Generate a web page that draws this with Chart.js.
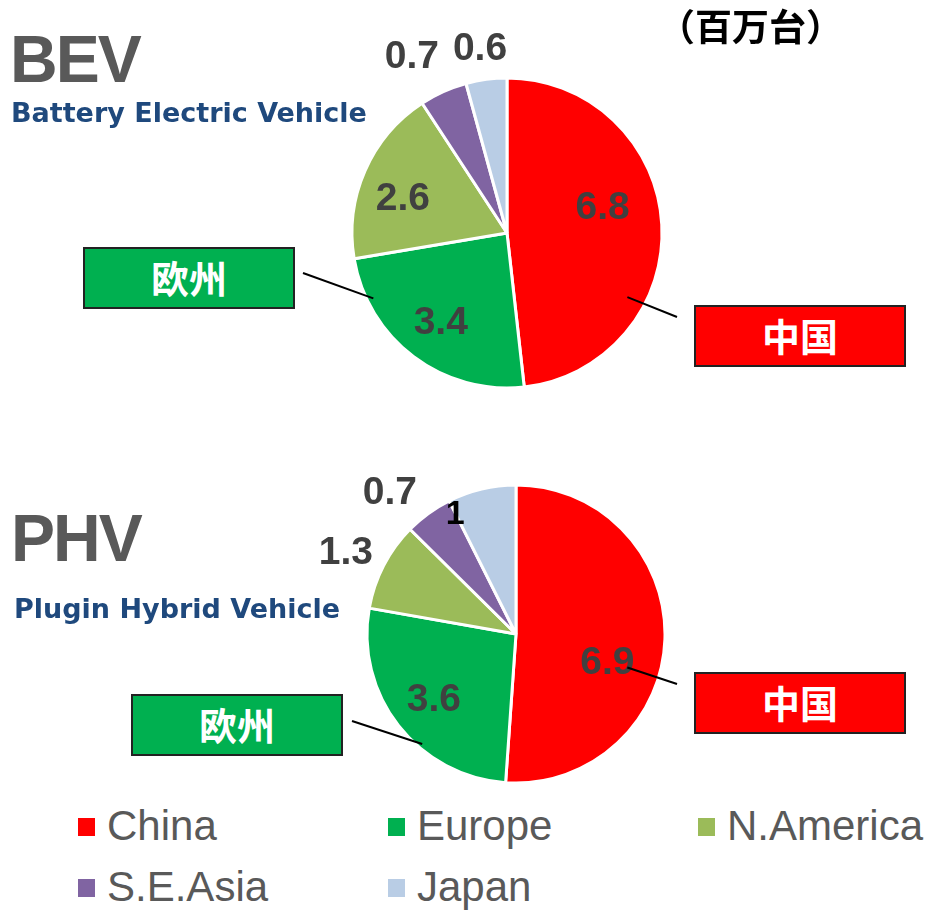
<!DOCTYPE html>
<html>
<head>
<meta charset="utf-8">
<script src="https://cdn.jsdelivr.net/npm/chart.js@4"></script>
<style>
  html, body { margin: 0; padding: 0; background: #fff; }
  #page { position: relative; width: 927px; height: 910px; overflow: hidden; }
  canvas { position: absolute; left: 0; }
  .title { position: absolute; font-family: 'Liberation Sans', Arial, sans-serif; font-weight: bold;
           font-size: 66px; line-height: 66px; color: #595959; letter-spacing: -2px; white-space: nowrap; }
  .sub { position: absolute; font-family: 'DejaVu Sans', Verdana, sans-serif; font-weight: bold;
         font-size: 27px; line-height: 27px; color: #1F497D; white-space: nowrap; }
  .unit { position: absolute; left: 658px; top: 7px; font-family: 'Noto Sans CJK JP', sans-serif;
          font-weight: bold; font-size: 37px; line-height: 37px; color: #000; white-space: nowrap; }
  .box { position: absolute; box-sizing: border-box; width: 212px; height: 62px; border: 2px solid #222;
         color: #fff; font-family: 'Noto Sans CJK JP', sans-serif; font-weight: bold; font-size: 38px;
         line-height: 56px; text-align: center; }
  .lg { position: absolute; font-family: 'Liberation Sans', Arial, sans-serif; font-size: 42px;
        line-height: 42px; color: #595959; white-space: nowrap; }
  .lg i { position: absolute; width: 17px; height: 18px; }
</style>
</head>
<body>
<div id="page">
  <canvas id="bev" width="927" height="420" style="top:0"></canvas>
  <canvas id="phv" width="927" height="380" style="top:420px"></canvas>

  <div class="title" style="left:10px; top:26px">BEV</div>
  <div class="sub" style="left:11px; top:99px">Battery Electric Vehicle</div>
  <div class="title" style="left:11px; top:505px">PHV</div>
  <div class="sub" style="left:14px; top:595px">Plugin Hybrid Vehicle</div>
  <div class="unit">（百万台）</div>

  <div class="box" style="left:83px; top:247px; background:#00B050">欧州</div>
  <div class="box" style="left:694px; top:305px; background:#FF0000">中国</div>
  <div class="box" style="left:131px; top:694px; background:#00B050">欧州</div>
  <div class="box" style="left:694px; top:672px; background:#FF0000">中国</div>

  <div id="legend"></div>
</div>

<script>
// ---- data ----
const regions = ['China', 'Europe', 'N.America', 'S.E.Asia', 'Japan'];
const bevValues = [6.8, 3.4, 2.6, 0.7, 0.6];
const phvValues = [6.9, 3.6, 1.3, 0.7, 1];
const regionColors = ['#FF0000', '#00B050', '#9BBB59', '#8064A2', '#B9CDE5'];

// label placement: [fraction along slice, radius factor]
const bevLabelPos = [[0.43, 0.64], [0.5, 0.71], [0.43, 0.71], [0.28, 1.30], [0.46, 1.21]];
const phvLabelPos = [[0.58, 0.64], [0.5, 0.70], [0.46, 1.27], [0.21, 1.28], [0.0, 0.91]];
const phvLabelColors = ['#404040', '#404040', '#404040', '#404040', '#000000'];

// leader lines: slice index, [fraction, radius factor], end point in canvas px
const bevLeaders = [
  { index: 0, at: [0.68, 0.88], to: [677, 317] },
  { index: 1, at: [0.81, 0.96], to: [303, 273] },
];
const phvLeaders = [
  { index: 0, at: [0.58, 0.78], to: [677, 264] },
  { index: 1, at: [0.38, 0.97], to: [352, 301] },
];

function arcPoint(arc, frac, rf) {
  const p = arc.getProps(['x', 'y', 'startAngle', 'endAngle', 'outerRadius'], true);
  const a = p.startAngle + frac * (p.endAngle - p.startAngle);
  const r = rf * p.outerRadius;
  return [p.x + Math.cos(a) * r, p.y + Math.sin(a) * r];
}

function labelPlugin(positions, colors, sizes, leaders) {
  return {
    id: 'pieLabels',
    afterDatasetsDraw(chart) {
      const ctx = chart.ctx;
      const meta = chart.getDatasetMeta(0);
      const values = chart.data.datasets[0].data;
      ctx.save();
      ctx.textAlign = 'center';
      ctx.textBaseline = 'middle';
      meta.data.forEach((arc, i) => {
        const [x, y] = arcPoint(arc, positions[i][0], positions[i][1]);
        ctx.fillStyle = colors[i];
        ctx.font = `bold ${sizes[i]}px "Liberation Sans", Arial, sans-serif`;
        ctx.fillText(String(values[i]), x, y + 2);
      });
      ctx.strokeStyle = '#000';
      ctx.lineWidth = 2;
      leaders.forEach(l => {
        const [x, y] = arcPoint(meta.data[l.index], l.at[0], l.at[1]);
        ctx.beginPath();
        ctx.moveTo(x, y);
        ctx.lineTo(l.to[0], l.to[1]);
        ctx.stroke();
      });
      ctx.restore();
    },
  };
}

function makePie(canvasId, values, radius, padding, plugin) {
  const ctx = document.getElementById(canvasId).getContext('2d');
  return new Chart(ctx, {
    type: 'pie',
    data: {
      labels: regions,
      datasets: [{
        data: values,
        backgroundColor: regionColors,
        borderColor: '#ffffff',
        borderWidth: 3,
        offset: 0,
        hoverOffset: 0,
      }],
    },
    options: {
      responsive: false,
      animation: false,
      radius: radius,
      layout: { padding },
      plugins: { legend: { display: false }, tooltip: { enabled: false } },
      events: [],
    },
    plugins: [plugin],
  });
}

makePie('bev', bevValues, 155,
  { left: 352, right: 265, top: 78, bottom: 32 },
  labelPlugin(bevLabelPos, ['#404040', '#404040', '#404040', '#404040', '#404040'],
    [39, 39, 39, 39, 39], bevLeaders));

makePie('phv', phvValues, 149,
  { left: 367, right: 262, top: 65, bottom: 17 },
  labelPlugin(phvLabelPos, phvLabelColors, [39, 39, 39, 39, 34], phvLeaders));

// ---- legend ----
const legendCols = [78, 388, 698];
const legendRows = [841, 902];
const legend = document.getElementById('legend');
regions.forEach((name, i) => {
  const col = legendCols[i % 3];
  const base = legendRows[Math.floor(i / 3)];
  const el = document.createElement('div');
  el.className = 'lg';
  el.style.left = (col + 29) + 'px';
  el.style.top = (base - 36) + 'px';
  el.textContent = name;
  const m = document.createElement('i');
  m.style.background = regionColors[i];
  m.style.left = '-29px';
  m.style.top = '13px';
  el.appendChild(m);
  legend.appendChild(el);
});
</script>
</body>
</html>
